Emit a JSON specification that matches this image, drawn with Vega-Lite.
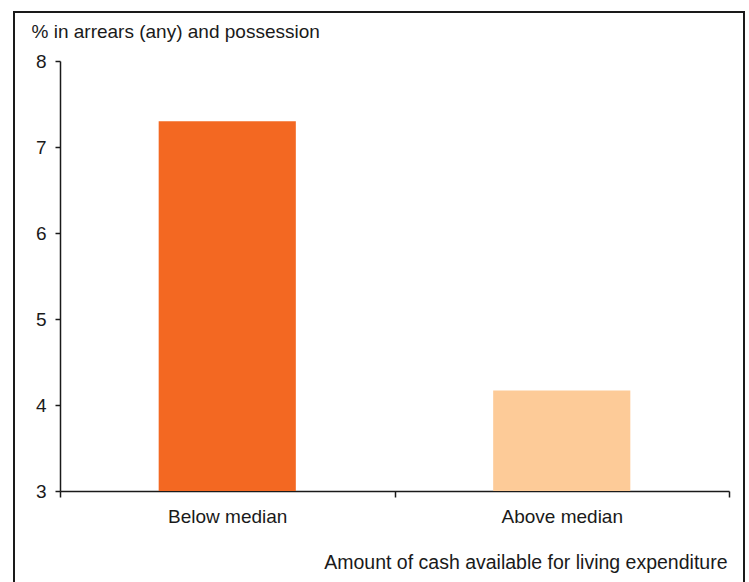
{
  "$schema": "https://vega.github.io/schema/vega-lite/v6.json",
  "autosize": {"type": "none"},
  "width": 730,
  "height": 580,
  "padding": {"left": 14, "top": 12, "right": 5, "bottom": -10},
  "background": "white",
  "config": {
    "view": {"stroke": "#1a1a1a", "strokeWidth": 2},
    "font": "Liberation Sans",
    "axis": {
      "labelFont": "Liberation Sans",
      "titleFont": "Liberation Sans",
      "labelFontSize": 19,
      "titleFontSize": 19,
      "titleFontWeight": "normal",
      "labelColor": "#1a1a1a",
      "titleColor": "#1a1a1a",
      "domainColor": "#1a1a1a",
      "tickColor": "#1a1a1a",
      "domainWidth": 1.5,
      "tickWidth": 1.5,
      "grid": false,
      "zindex": 1
    }
  },
  "data": {
    "values": [
      {"group": "Below median", "pct": 7.3},
      {"group": "Above median", "pct": 4.17}
    ]
  },
  "mark": {"type": "bar", "width": {"band": 0.41}},
  "encoding": {
    "x": {
      "field": "group",
      "type": "nominal",
      "sort": ["Below median", "Above median"],
      "scale": {"range": [46, 715], "paddingInner": 0, "paddingOuter": 0},
      "axis": {
        "orient": "bottom",
        "offset": -101,
        "labelAngle": 0,
        "tickBand": "extent",
        "tickSize": 6,
        "labelPadding": 10,
        "title": "Amount of cash available for living expenditure",
        "titleFontSize": 19.5,
        "titleX": 713,
        "titleY": 77,
        "titleAlign": "right",
        "titleBaseline": "alphabetic",
        "titleAnchor": null
      }
    },
    "y": {
      "field": "pct",
      "type": "quantitative",
      "scale": {"domain": [3, 8], "range": [479, 49], "zero": false, "nice": false},
      "axis": {
        "orient": "left",
        "offset": -46,
        "values": [3, 4, 5, 6, 7, 8],
        "tickSize": 5,
        "labelPadding": 9,
        "title": "% in arrears (any) and possession",
        "titleAngle": 0,
        "titleX": -29,
        "titleY": 25,
        "titleAlign": "left",
        "titleBaseline": "alphabetic",
        "titleAnchor": null
      }
    },
    "y2": {"datum": 3},
    "color": {
      "field": "group",
      "type": "nominal",
      "scale": {"domain": ["Below median", "Above median"], "range": ["#F36822", "#FDCB98"]},
      "legend": null
    }
  }
}
